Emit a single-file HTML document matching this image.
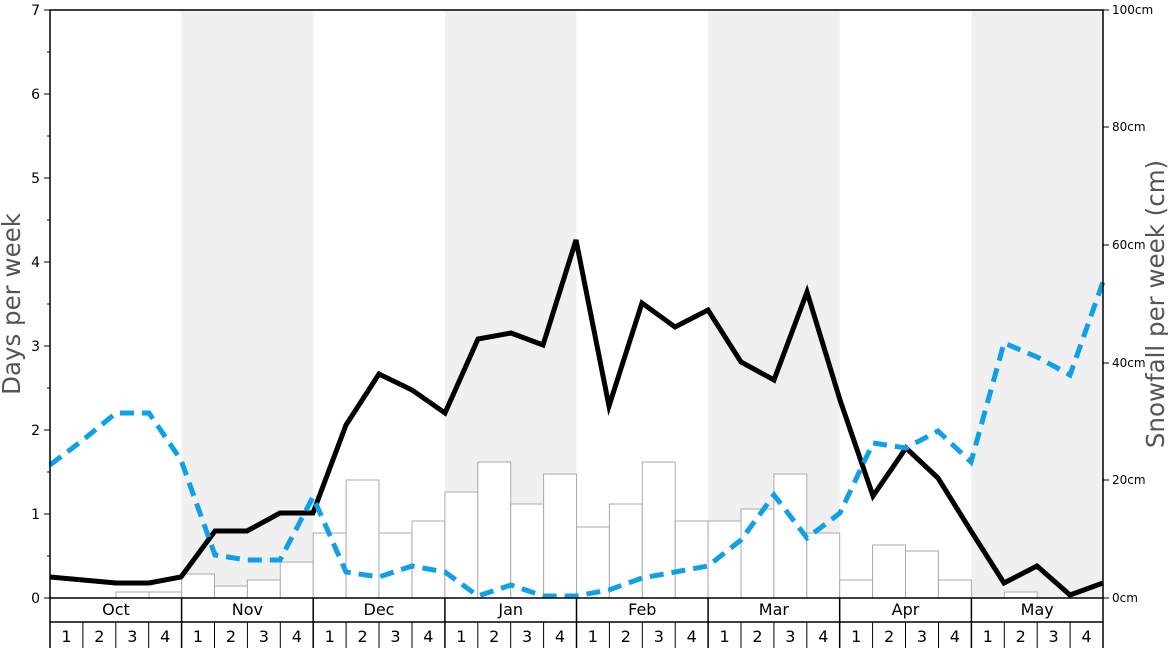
<!DOCTYPE html>
<html><head><meta charset="utf-8"><style>body{margin:0;background:#fff}svg{display:block;font-family:"DejaVu Sans","Liberation Sans",sans-serif}</style></head><body>
<svg width="1168" height="648" viewBox="0 0 1168 648" xmlns="http://www.w3.org/2000/svg">
<rect width="1168" height="648" fill="#fff"/>
<g fill="#f0f0f0">
<rect x="181.6" y="10" width="131.6" height="588"/>
<rect x="444.9" y="10" width="131.6" height="588"/>
<rect x="708.1" y="10" width="131.6" height="588"/>
<rect x="971.4" y="10" width="131.6" height="588"/>
</g>
<g fill="#fff" stroke="#aaa" stroke-width="1">
<rect x="116" y="592" width="33" height="6"/><rect x="149" y="592" width="33" height="6"/>
<rect x="181.6" y="574" width="32.9" height="24"/><rect x="214.5" y="586" width="32.9" height="12"/><rect x="247.4" y="580" width="32.9" height="18"/><rect x="280.3" y="562" width="32.9" height="36"/>
<rect x="313.2" y="533" width="32.9" height="65"/><rect x="346.1" y="480" width="32.9" height="118"/><rect x="379" y="533" width="32.9" height="65"/><rect x="412" y="521" width="32.9" height="77"/>
<rect x="444.9" y="492" width="32.9" height="106"/><rect x="477.8" y="462" width="32.9" height="136"/><rect x="510.7" y="504" width="32.9" height="94"/><rect x="543.6" y="474" width="32.9" height="124"/>
<rect x="576.5" y="527" width="32.9" height="71"/><rect x="609.4" y="504" width="32.9" height="94"/><rect x="642.3" y="462" width="32.9" height="136"/><rect x="675.2" y="521" width="32.9" height="77"/>
<rect x="708.1" y="521" width="32.9" height="77"/><rect x="741" y="509" width="32.9" height="89"/><rect x="773.9" y="474" width="32.9" height="124"/><rect x="806.8" y="533" width="32.9" height="65"/>
<rect x="839.7" y="580" width="32.9" height="18"/><rect x="872.6" y="545" width="32.9" height="53"/><rect x="905.5" y="551" width="32.9" height="47"/><rect x="938.5" y="580" width="32.9" height="18"/>
<rect x="1004.3" y="592" width="32.9" height="6"/>
</g>
<polyline fill="none" stroke="#000" stroke-width="5" stroke-linejoin="miter" points="50,577 83,580 116,583 149,583 181,577 215,531 247,531 280,513 313,513 346,425 379,374 412,390 445,413 478,339 511,333 543,345 576,240 609,406 642,303 675,327 708,310 741,362 774,380 807,292 840,400 873,496 906,448 938,478 971,531 1004,583 1037,566 1070,595 1103,583"/>
<polyline fill="none" stroke="#0ea0e8" stroke-width="5" stroke-dasharray="14,8" points="50,465 83,440 116,413 149,413 181,460 215,555 247,560 280,560 313,497 346,572 379,577 412,566 445,572 478,596 511,585 543,596 576,596 609,590 642,578 675,572 708,566 741,540 774,495 807,538 840,513 873,443 906,448 938,431 971,462 1004,343 1037,357 1070,375 1103,282"/>
<rect x="50" y="10" width="1053" height="588" fill="none" stroke="#000" stroke-width="1.5"/>
<g stroke="#000" stroke-width="1">
<line x1="44" y1="598" x2="50" y2="598"/><line x1="44" y1="514" x2="50" y2="514"/><line x1="44" y1="430" x2="50" y2="430"/><line x1="44" y1="346" x2="50" y2="346"/><line x1="44" y1="262" x2="50" y2="262"/><line x1="44" y1="178" x2="50" y2="178"/><line x1="44" y1="94" x2="50" y2="94"/><line x1="44" y1="10" x2="50" y2="10"/>
<line x1="47" y1="556" x2="50" y2="556"/><line x1="47" y1="472" x2="50" y2="472"/><line x1="47" y1="388" x2="50" y2="388"/><line x1="47" y1="304" x2="50" y2="304"/><line x1="47" y1="220" x2="50" y2="220"/><line x1="47" y1="136" x2="50" y2="136"/><line x1="47" y1="52" x2="50" y2="52"/>
<line x1="1103" y1="598" x2="1109" y2="598"/><line x1="1103" y1="480" x2="1109" y2="480"/><line x1="1103" y1="363" x2="1109" y2="363"/><line x1="1103" y1="245" x2="1109" y2="245"/><line x1="1103" y1="127" x2="1109" y2="127"/><line x1="1103" y1="10" x2="1109" y2="10"/>
</g>
<g font-size="14" text-anchor="end" fill="#000">
<text x="40" y="603">0</text><text x="40" y="519">1</text><text x="40" y="435">2</text><text x="40" y="351">3</text><text x="40" y="267">4</text><text x="40" y="183">5</text><text x="40" y="99">6</text><text x="40" y="15">7</text>
</g>
<g font-size="12" fill="#000">
<text x="1112" y="602">0cm</text><text x="1112" y="484">20cm</text><text x="1112" y="367">40cm</text><text x="1112" y="249">60cm</text><text x="1112" y="131">80cm</text><text x="1112" y="14">100cm</text>
</g>
<text transform="translate(20,304) rotate(-90)" font-size="24.5" fill="#555" text-anchor="middle">Days per week</text>
<text transform="translate(1164,304) rotate(-90)" font-size="24.5" fill="#555" text-anchor="middle">Snowfall per week (cm)</text>
<g stroke="#000" stroke-width="1.5" fill="none">
<line x1="50" y1="622" x2="1103" y2="622"/><line x1="50" y1="598" x2="50" y2="648"/><line x1="1103" y1="598" x2="1103" y2="648"/>
<line x1="181.6" y1="598" x2="181.6" y2="648"/><line x1="313.2" y1="598" x2="313.2" y2="648"/><line x1="444.9" y1="598" x2="444.9" y2="648"/><line x1="576.5" y1="598" x2="576.5" y2="648"/><line x1="708.1" y1="598" x2="708.1" y2="648"/><line x1="839.7" y1="598" x2="839.7" y2="648"/><line x1="971.4" y1="598" x2="971.4" y2="648"/>
</g>
<g stroke="#000" stroke-width="1">
<line x1="82.9" y1="622" x2="82.9" y2="648"/><line x1="115.8" y1="622" x2="115.8" y2="648"/><line x1="148.7" y1="622" x2="148.7" y2="648"/>
<line x1="214.5" y1="622" x2="214.5" y2="648"/><line x1="247.4" y1="622" x2="247.4" y2="648"/><line x1="280.3" y1="622" x2="280.3" y2="648"/>
<line x1="346.1" y1="622" x2="346.1" y2="648"/><line x1="379" y1="622" x2="379" y2="648"/><line x1="412" y1="622" x2="412" y2="648"/>
<line x1="477.8" y1="622" x2="477.8" y2="648"/><line x1="510.7" y1="622" x2="510.7" y2="648"/><line x1="543.6" y1="622" x2="543.6" y2="648"/>
<line x1="609.4" y1="622" x2="609.4" y2="648"/><line x1="642.3" y1="622" x2="642.3" y2="648"/><line x1="675.2" y1="622" x2="675.2" y2="648"/>
<line x1="741" y1="622" x2="741" y2="648"/><line x1="773.9" y1="622" x2="773.9" y2="648"/><line x1="806.8" y1="622" x2="806.8" y2="648"/>
<line x1="872.6" y1="622" x2="872.6" y2="648"/><line x1="905.5" y1="622" x2="905.5" y2="648"/><line x1="938.5" y1="622" x2="938.5" y2="648"/>
<line x1="1004.3" y1="622" x2="1004.3" y2="648"/><line x1="1037.2" y1="622" x2="1037.2" y2="648"/><line x1="1070.1" y1="622" x2="1070.1" y2="648"/>
</g>
<g font-size="16" text-anchor="middle" fill="#000">
<text x="116" y="615">Oct</text><text x="247.4" y="615">Nov</text><text x="379" y="615">Dec</text><text x="510.7" y="615">Jan</text><text x="642.3" y="615">Feb</text><text x="773.9" y="615">Mar</text><text x="905.5" y="615">Apr</text><text x="1037.2" y="615">May</text>
</g>
<g font-size="16" text-anchor="middle" fill="#000">
<text x="66.5" y="642">1</text><text x="99.4" y="642">2</text><text x="132.3" y="642">3</text><text x="165.2" y="642">4</text>
<text x="198" y="642">1</text><text x="231" y="642">2</text><text x="263.9" y="642">3</text><text x="296.8" y="642">4</text>
<text x="329.7" y="642">1</text><text x="362.6" y="642">2</text><text x="395.5" y="642">3</text><text x="428.4" y="642">4</text>
<text x="461.3" y="642">1</text><text x="494.2" y="642">2</text><text x="527.1" y="642">3</text><text x="560" y="642">4</text>
<text x="592.9" y="642">1</text><text x="625.8" y="642">2</text><text x="658.8" y="642">3</text><text x="691.7" y="642">4</text>
<text x="724.6" y="642">1</text><text x="757.5" y="642">2</text><text x="790.4" y="642">3</text><text x="823.3" y="642">4</text>
<text x="856.2" y="642">1</text><text x="889.1" y="642">2</text><text x="922" y="642">3</text><text x="954.9" y="642">4</text>
<text x="987.8" y="642">1</text><text x="1020.7" y="642">2</text><text x="1053.6" y="642">3</text><text x="1086.5" y="642">4</text>
</g>
</svg>
</body></html>
